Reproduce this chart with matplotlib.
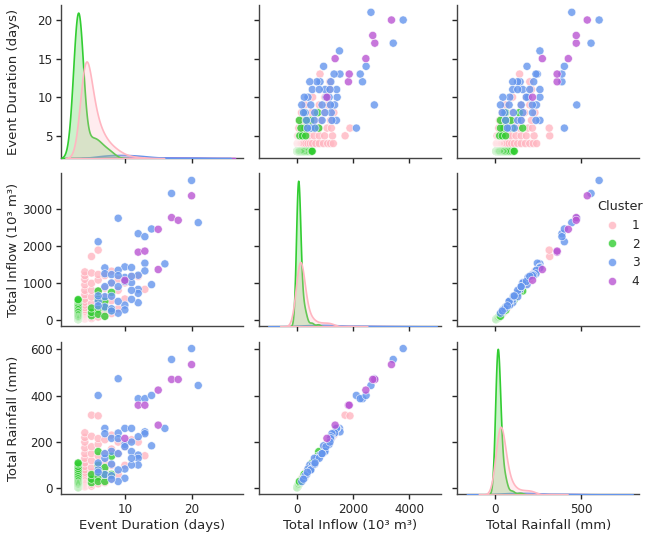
import matplotlib
matplotlib.use("Agg")
import numpy as np
import pandas as pd
import matplotlib.pyplot as plt
import seaborn as sns

# Cluster 1 (pink): duration (days), inflow (10^3 m3), rainfall (mm), number of events with these values
c1_duration = [4, 4, 4, 4, 4, 4, 4, 4, 4, 4, 4, 4, 4, 4, 4, 4, 4, 4, 4, 4, 4, 4, 4,
               5, 5, 5, 5, 5, 5, 5, 5, 5, 5, 5, 5, 5,
               6, 6, 6, 6, 6, 6, 6, 6,
               7, 7, 7, 7, 7, 7,
               8, 8, 8, 8,
               9, 9, 9,
               10, 10, 11, 12, 13]
c1_inflow = [30, 45, 62, 78, 95, 110, 128, 145, 165, 190, 215, 240, 280, 330, 400, 480, 560, 680, 800, 950, 1100, 1200, 1300,
             38, 70, 105, 140, 190, 240, 330, 440, 620, 800, 990, 1270, 1718,
             75, 160, 300, 520, 780, 1080, 1230, 1891,
             100, 220, 600, 860, 1200, 400,
             170, 520, 980, 1320,
             300, 800, 1100,
             565, 1000, 1176, 1176, 827]
c1_rainfall = [8, 12, 16, 20, 24, 28, 32, 36, 40, 45, 50, 55, 62, 70, 80, 95, 110, 130, 150, 175, 200, 220, 240,
               10, 18, 26, 34, 45, 55, 70, 90, 120, 150, 180, 225, 316,
               20, 40, 65, 100, 140, 190, 215, 313,
               25, 50, 110, 150, 210, 80,
               40, 100, 170, 230,
               60, 150, 200,
               100, 180, 210, 200, 141]
c1_events = [10, 19, 26, 29, 30, 28, 23, 19, 15, 12, 9, 7, 6, 4, 3, 2, 2, 1, 1, 1, 1, 1, 1,
             6, 15, 22, 20, 14, 9, 6, 4, 3, 2, 2, 1, 1,
             16, 16, 11, 6, 3, 2, 1, 1,
             9, 10, 4, 2, 1, 8,
             9, 7, 3, 2,
             7, 4, 2,
             4, 2, 3, 2, 1]

# Cluster 2 (green)
c2_duration = [3, 3, 3, 3, 3, 3, 3, 3, 3, 3, 3, 3, 3, 3, 3, 3, 3, 3, 3, 3, 3, 3, 3, 3,
               5, 5, 5, 6, 6, 6, 6, 7, 7, 7, 8, 8]
c2_inflow = [12, 20, 28, 36, 44, 52, 60, 70, 80, 95, 110, 135, 160, 190, 220, 250, 280, 320, 365, 410, 450, 500, 530, 550,
             110, 200, 320, 290, 560, 782, 150, 95, 500, 330, 264, 745]
c2_rainfall = [4, 6, 8, 10, 12, 14, 16, 18, 20, 23, 26, 30, 35, 40, 45, 50, 55, 62, 70, 78, 86, 95, 105, 110,
               25, 40, 60, 50, 100, 159, 30, 30, 90, 60, 61, 139]
c2_events = [25, 40, 50, 55, 55, 50, 40, 30, 22, 16, 12, 9, 7, 5, 4, 3, 2, 1, 1, 1, 1, 1, 1, 1,
             20, 14, 6, 10, 4, 2, 14, 10, 3, 5, 8, 4]

# Cluster 3 (blue)
c3_duration = [20, 17, 21, 9, 6, 12, 13, 14, 16, 13, 13, 10, 11, 7, 9, 7, 8, 12, 14, 11, 12, 12,
               12, 11, 10, 10, 9, 7, 6, 8, 7, 9, 10, 11, 8, 9, 6, 10, 8, 6, 9, 11, 7, 8]
c3_inflow = [3780, 3427, 2636, 2755, 2118, 2336, 2255, 2464, 1518, 1536, 1327, 1436, 1418, 1409, 1345, 1250, 1227, 1210, 955, 1009, 827, 718,
             464, 555, 400, 270, 180, 627, 500, 1000, 350, 500, 1150, 800, 640, 900, 650, 1040, 300, 380, 1200, 1180, 900, 240]
c3_rainfall = [603, 556, 444, 473, 401, 387, 387, 401, 259, 244, 236, 259, 259, 259, 239, 236, 216, 223, 184, 159, 144, 130,
               101, 101, 84, 44, 30, 130, 81, 160, 60, 80, 190, 130, 105, 150, 110, 180, 55, 70, 215, 200, 150, 40]
c3_events = [1] * 44

# Cluster 4 (purple)
c4_duration = [20, 17, 18, 15, 12, 13, 15, 10]
c4_inflow = [3364, 2773, 2700, 2455, 1836, 1864, 1364, 1073]
c4_rainfall = [534, 470, 470, 424, 359, 359, 273, 216]
c4_events = [1] * 8

clusters = ["1", "2", "3", "4"]
palette = {"1": "lightpink", "2": "limegreen", "3": "cornflowerblue", "4": "mediumorchid"}

cols = ["Event Duration (days)", "Total Inflow (10³ m³)", "Total Rainfall (mm)"]
x_limits = [(0.4, 27.7), (-1340, 5126), (-222, 836)]
x_ticks = [[10, 20], [0, 2000, 4000], [0, 500]]

parts = []
for cl, d, q, r, n in zip(clusters,
                          [c1_duration, c2_duration, c3_duration, c4_duration],
                          [c1_inflow, c2_inflow, c3_inflow, c4_inflow],
                          [c1_rainfall, c2_rainfall, c3_rainfall, c4_rainfall],
                          [c1_events, c2_events, c3_events, c4_events]):
    parts.append(pd.DataFrame({cols[0]: d, cols[1]: q, cols[2]: r, "Events": n, "Cluster": cl}))
df = pd.concat(parts, ignore_index=True)

sns.set_theme(style="ticks")
plt.rcParams.update({
    "font.family": ["DejaVu Sans"],
    "axes.labelsize": 9.5,
    "xtick.labelsize": 8.6,
    "ytick.labelsize": 8.6,
    "legend.fontsize": 8.7,
    "legend.title_fontsize": 9.2,
    "axes.linewidth": 1.0,
    "axes.labelpad": 2.0,
    "xtick.major.size": 3.5,
    "ytick.major.size": 3.5,
    "xtick.major.pad": 2.5,
    "ytick.major.pad": 2.5,
    "xtick.major.width": 1.0,
    "ytick.major.width": 1.0,
    "axes.edgecolor": "#444444",
})

g = sns.pairplot(df, vars=cols, hue="Cluster", hue_order=clusters, palette=palette,
                 diag_kind="kde", height=1.8,
                 plot_kws=dict(s=34, alpha=0.8),
                 diag_kws=dict(weights=df["Events"].to_numpy(), linewidth=1.2))

for j in range(3):
    g.axes[2, j].set_xlim(*x_limits[j])
    g.axes[2, j].set_xticks(x_ticks[j])

fig = g.figure
fig.set_size_inches(6.47, 5.34)
fig.subplots_adjust(left=0.094, right=0.988, bottom=0.074, top=0.99, wspace=0.088, hspace=0.1)
fig.align_ylabels(g.axes[:, 0])
sns.move_legend(g, "center", bbox_to_anchor=(0.958, 0.543), frameon=False,
                labelspacing=0.48, handletextpad=0.6)
fig.savefig("out.png", dpi=100)
